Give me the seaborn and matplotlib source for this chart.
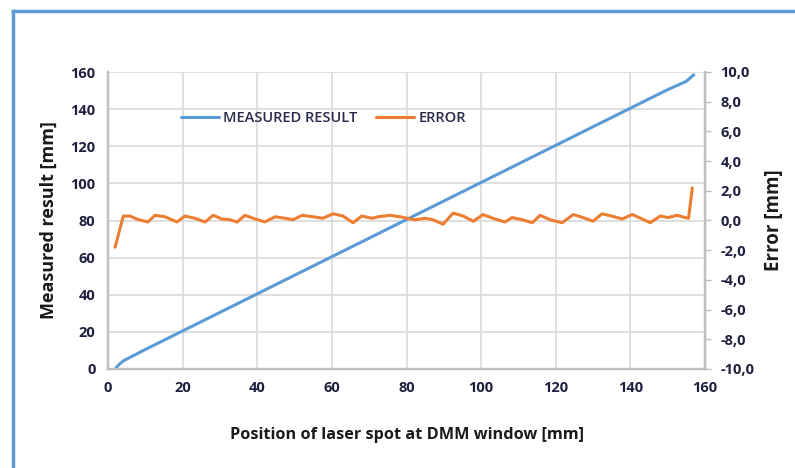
import matplotlib
matplotlib.use("Agg")
import matplotlib.pyplot as plt
from matplotlib.lines import Line2D
from matplotlib.ticker import FuncFormatter
import seaborn as sns
import pandas as pd

# ---- data ----
meas_pos = [1.9, 3.0, 4.2, 10.0, 20.0, 30.0, 40.0, 50.0, 60.0, 70.0, 80.0,
            90.0, 100.0, 110.0, 120.0, 130.0, 140.0, 150.0, 155.0, 157.0]
meas_val = [0.0, 2.5, 4.5, 10.5, 20.5, 30.5, 40.5, 50.5, 60.5, 70.5, 80.5,
            90.5, 100.5, 110.5, 120.5, 130.5, 140.5, 150.5, 155.0, 158.5]

err_pos = [1.9, 4.1, 5.9, 8.0, 10.7, 12.6, 15.3, 18.5, 20.6, 23.3, 26.0, 28.2,
           30.5, 32.7, 34.6, 36.7, 38.9, 42.0, 44.8, 47.5, 49.6, 52.0, 55.0,
           57.6, 60.3, 63.0, 65.7, 68.0, 70.8, 72.4, 75.6, 78.3, 80.2, 82.3,
           85.0, 87.1, 89.8, 92.5, 95.2, 97.9, 100.5, 103.5, 106.4, 108.3,
           111.0, 113.7, 115.8, 118.5, 121.7, 124.7, 127.3, 130.0, 132.4,
           135.0, 137.8, 140.5, 143.2, 145.3, 148.0, 150.1, 152.5, 154.7,
           155.6, 156.6]
err_val = [-1.8, 0.3, 0.3, 0.07, -0.1, 0.35, 0.25, -0.1, 0.3, 0.15, -0.1, 0.35,
           0.1, 0.05, -0.1, 0.35, 0.15, -0.1, 0.25, 0.15, 0.05, 0.35, 0.25,
           0.15, 0.45, 0.3, -0.15, 0.3, 0.15, 0.25, 0.35, 0.25, 0.15, 0.05,
           0.15, 0.05, -0.25, 0.5, 0.3, -0.05, 0.4, 0.12, -0.1, 0.2,
           0.05, -0.15, 0.35, 0.05, -0.15, 0.4, 0.2, -0.05, 0.45,
           0.3, 0.1, 0.4, 0.1, -0.15, 0.3, 0.2, 0.35, 0.2,
           0.15, 2.2]

x_ticks = [0, 20, 40, 60, 80, 100, 120, 140, 160]
y_left_ticks = [0, 20, 40, 60, 80, 100, 120, 140, 160]
y_right_ticks = [-10, -8, -6, -4, -2, 0, 2, 4, 6, 8, 10]

meas_df = pd.DataFrame({"pos": meas_pos, "val": meas_val})
err_df = pd.DataFrame({"pos": err_pos, "val": err_val})

sns.set_style("white")
plt.rcParams["font.family"] = ["Open Sans", "DejaVu Sans"]

BLUE = "#5b9bd5"
ORANGE = "#ed7d31"
GRID = "#d9d9d9"
SPINE = "#bfbfbf"
TICKC = "#1f1f3f"

fig = plt.figure(figsize=(7.95, 4.68), dpi=100)
ax = fig.add_axes([108 / 795, 1 - 369 / 468, (705 - 108) / 795, (369 - 72) / 468])
ax2 = ax.twinx()

sns.lineplot(data=meas_df, x="pos", y="val", ax=ax, color=BLUE, linewidth=2.2,
             label="MEASURED RESULT", legend=False)
sns.lineplot(data=err_df, x="pos", y="val", ax=ax2, color=ORANGE, linewidth=2.2,
             label="ERROR", legend=False)

ax.set_xlim(0, 160)
ax.set_ylim(0, 160)
ax2.set_ylim(-10, 10)
ax.set_xticks(x_ticks)
ax.set_yticks(y_left_ticks)
ax2.set_yticks(y_right_ticks)

ax.grid(True, color=GRID, linewidth=1.2)
ax2.grid(False)
ax.set_axisbelow(True)

for a in (ax, ax2):
    a.spines["top"].set_visible(False)
    for s in ("left", "bottom", "right"):
        a.spines[s].set_color(SPINE)
        a.spines[s].set_linewidth(1.6)

ax.tick_params(axis="both", length=0, pad=9, labelsize=10.5, labelcolor=TICKC)
ax2.tick_params(axis="y", length=4, width=1, color=SPINE, pad=7, labelsize=10.5,
                labelcolor=TICKC)
for lbl in ax.get_xticklabels() + ax.get_yticklabels() + ax2.get_yticklabels():
    lbl.set_fontweight("bold")

ax2.yaxis.set_major_formatter(FuncFormatter(lambda v, p: f"{v:.1f}".replace(".", ",")))

ax.set_xlabel("Position of laser spot at DMM window [mm]", fontsize=11.7,
              fontweight="bold", color="#1a1a1a", labelpad=23)
ax.set_ylabel("Measured result [mm]", fontsize=13, fontweight="bold",
              color="#1a1a1a", labelpad=9)
ax2.set_ylabel("Error [mm]", fontsize=13.5, fontweight="bold", color="#1a1a1a",
               labelpad=7)

handles = [Line2D([], [], color=BLUE, linewidth=2.2),
           Line2D([], [], color=ORANGE, linewidth=2.2)]
leg = ax.legend(handles, ["MEASURED RESULT", "ERROR"], ncol=2, frameon=False,
                loc="center left", bbox_to_anchor=(0.1, 0.845),
                handlelength=2.6, handletextpad=0.3, columnspacing=1.3,
                prop={"size": 10.5, "weight": "semibold"})
for t in leg.get_texts():
    t.set_color("#2a2a4a")

# outer blue frame (left and top edges visible)
fig.add_artist(Line2D([13 / 795, 13 / 795], [0, 1 - 11 / 468], transform=fig.transFigure,
                      color=BLUE, linewidth=2.5, solid_capstyle="projecting"))
fig.add_artist(Line2D([13 / 795, 1.0], [1 - 11 / 468, 1 - 11 / 468], transform=fig.transFigure,
                      color=BLUE, linewidth=2.5, solid_capstyle="projecting"))

fig.savefig("out.png", dpi=100)
